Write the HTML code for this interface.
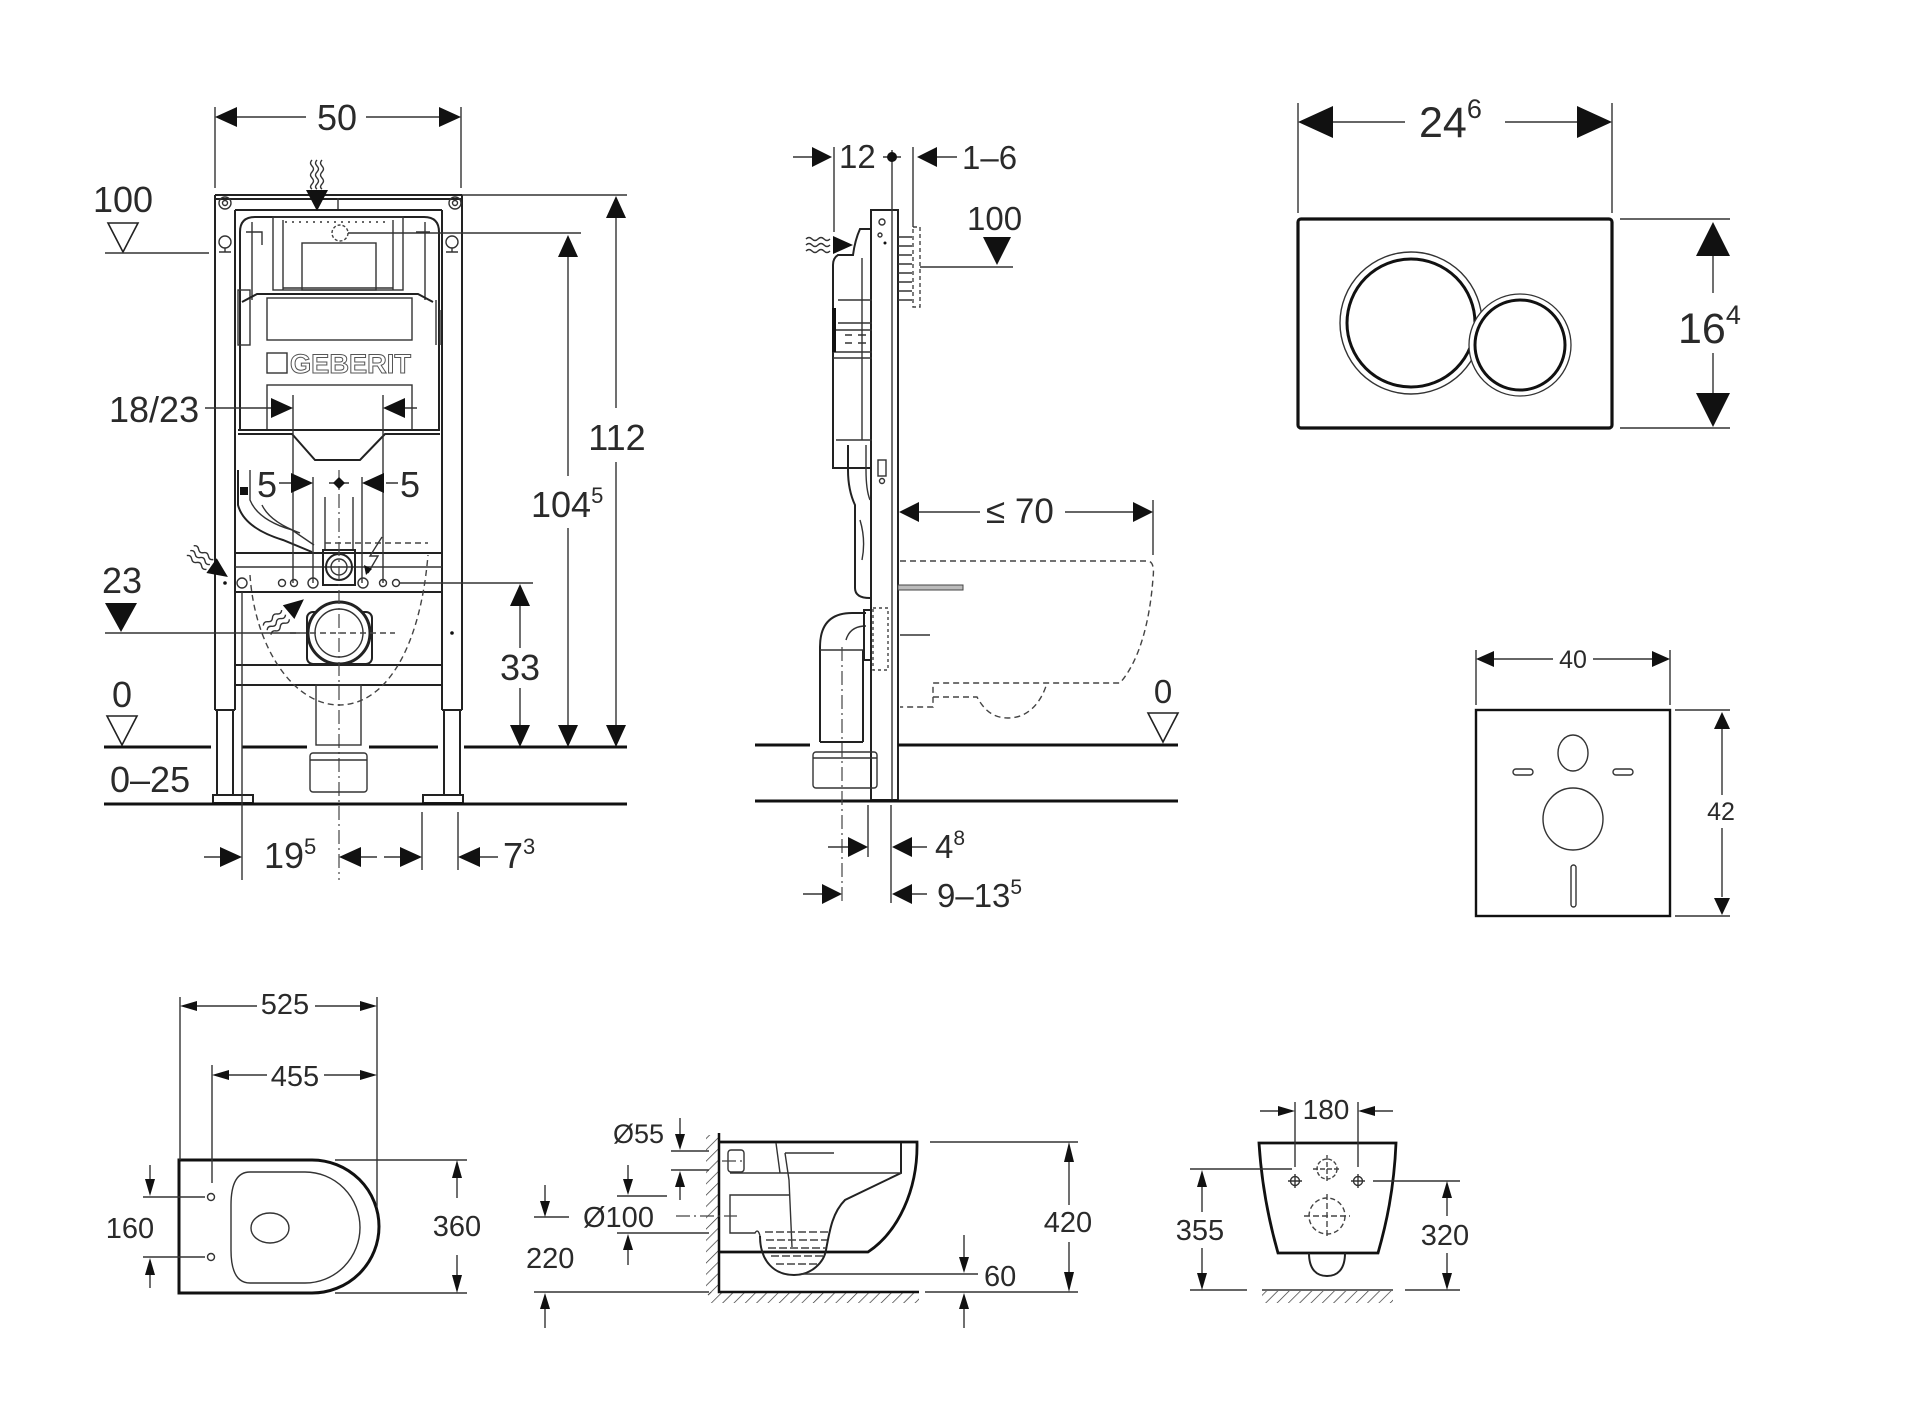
<!DOCTYPE html>
<html><head><meta charset="utf-8"><style>html,body{margin:0;padding:0;background:#fff}svg{display:block}</style></head>
<body>
<svg width="1920" height="1422" viewBox="0 0 1920 1422" xmlns="http://www.w3.org/2000/svg" font-family="Liberation Sans, Arial, sans-serif">
<defs>
<pattern id="h" width="8" height="8" patternUnits="userSpaceOnUse" patternTransform="rotate(45)"><line x1="0" y1="0" x2="0" y2="8" stroke="#333" stroke-width="1.4"/></pattern>
<style>
.l{stroke:#333;stroke-width:1.4;fill:none}
.m{stroke:#222;stroke-width:2;fill:none}
.t{stroke:#111;stroke-width:3;fill:none}
.d{stroke:#444;stroke-width:1.4;fill:none;stroke-dasharray:6 4}
.c{stroke:#444;stroke-width:1.2;fill:none;stroke-dasharray:14 4 2 4}
.a{fill:#111;stroke:none}
.h{fill:#fff;stroke:#222;stroke-width:1.6}
text{fill:#2a2a2a}
.f1{font-size:36px}
.f2{font-size:33px}
.f3{font-size:29px}
</style>
</defs>

<!-- ================= VIEW 1 : FRONT FRAME ================= -->
<!-- dim 50 -->
<path class="l" d="M215,107V188M461,107V188M237,117H306M366,117H439"/>
<polygon class="a" points="215,117 237,107 237,127"/>
<polygon class="a" points="461,117 439,107 439,127"/>
<text class="f1" x="337" y="130" text-anchor="middle">50</text>

<!-- frame -->
<path class="m" d="M215,195H462M215,195V710M462,195V710M235,210V710M442,210V710M235,210H442M215,199H462"/>
<path class="m" d="M217,710V795M233,710V795M444,710V795M460,710V795M215,710H235M442,710H462"/>
<rect class="m" x="213" y="795" width="40" height="8"/>
<rect class="m" x="423" y="795" width="40" height="8"/>
<circle class="l" cx="225" cy="203" r="6"/><circle class="l" cx="225" cy="203" r="2.5"/>
<circle class="l" cx="455" cy="203" r="6"/><circle class="l" cx="455" cy="203" r="2.5"/>
<circle class="l" cx="225" cy="242" r="6"/><path class="l" d="M219,252H231M225,248V252"/>
<circle class="l" cx="452" cy="242" r="6"/><path class="l" d="M446,252H458M452,248V252"/>
<path class="l" d="M338,198V209"/>

<!-- top wavy arrow -->
<path class="l" d="M312,160q-3,3 0,6t0,6t0,6t0,6t0,5M317,160q-3,3 0,6t0,6t0,6t0,6t0,5M322,160q-3,3 0,6t0,6t0,6t0,6t0,5"/>
<polygon class="a" points="306,190 328,190 317,211"/>

<!-- cistern -->
<path class="m" d="M240,430V232Q240,217 255,217H424Q439,217 439,232V430"/>
<rect class="l" x="273" y="217" width="130" height="73"/>
<path class="l" d="M283,220V290M393,220V290M283,288H393"/>
<rect class="l" x="302" y="243" width="74" height="47"/>
<circle class="d" cx="340" cy="233" r="8" style="stroke-dasharray:3 2"/>
<path class="l" d="M348,233H581"/>
<path class="l" d="M285,222H390" style="stroke-dasharray:2 5"/>
<path class="l" d="M252,222V300M425,222V300M246,232H262V245M430,232H416"/>
<rect class="l" x="238" y="290" width="12" height="55"/>
<path class="m" d="M242,302L257,294H418L433,302"/>
<rect class="l" x="267" y="298" width="145" height="42"/>
<rect class="l" x="267" y="353" width="20" height="20"/>
<text x="290" y="373" font-size="27" font-weight="bold" fill="#fff" stroke="#555" stroke-width="1" textLength="121" lengthAdjust="spacingAndGlyphs" style="fill:#fff">GEBERIT</text>
<rect class="l" x="267" y="385" width="145" height="45"/>
<path class="m" d="M238,430H440M238,434H292L315,460H360L385,434H440"/>
<path class="l" d="M436,300V345M440,310V345"/>

<!-- lower section -->
<path class="m" d="M235,553H442M235,592H442M235,665H442M235,685H442"/>
<path class="l" d="M235,567H442"/>
<path class="m" d="M238,470V505Q244,528 283,540L312,552"/>
<path class="l" d="M250,470V500Q258,520 292,530L314,545M262,505Q270,522 300,533"/>
<rect class="a" x="240" y="487" width="8" height="8"/>
<path class="l" d="M293,395V583M383,395V583M313,477V583M362,477V583M325,497V550M353,497V550"/>
<rect class="m" x="323" y="550" width="32" height="35"/>
<circle class="m" cx="339" cy="567" r="13"/><circle class="l" cx="339" cy="567" r="8"/>
<circle class="l" cx="242" cy="583" r="5"/><circle class="l" cx="282" cy="583" r="3.5"/><circle class="l" cx="294" cy="583" r="3.5"/>
<circle class="l" cx="313" cy="583" r="5"/><circle class="l" cx="363" cy="583" r="5"/><circle class="l" cx="383" cy="583" r="3.5"/><circle class="l" cx="396" cy="583" r="3.5"/>
<path class="l" d="M400,583H533"/>
<rect class="m" x="307" y="612" width="65" height="52" rx="6"/>
<circle cx="339" cy="633" r="31" fill="#fff" stroke="#222" stroke-width="3"/>
<circle class="l" cx="339" cy="633" r="24"/>
<path class="d" d="M290,633H395"/>
<path class="c" d="M339,470V880"/>
<rect class="l" x="316" y="685" width="45" height="60"/>
<rect class="l" x="310" y="753" width="57" height="39" rx="3"/>
<path class="l" d="M310,760H367"/>
<path class="d" d="M250,575C255,650 295,705 339,705C385,705 420,650 428,555M325,543H428"/>
<circle class="a" cx="225" cy="583" r="1.8"/><circle class="a" cx="452" cy="633" r="1.8"/>
<!-- lightning -->
<path class="l" d="M382,537L370,556L378,556L368,573"/>
<polygon class="a" points="366,575 364,565 372,569"/>
<!-- wavy arrows -->
<g transform="translate(205,561) rotate(35)">
<path class="l" d="M-18,-6q3,-3 6,0t6,0t6,0t6,0M-18,0q3,-3 6,0t6,0t6,0t6,0M-18,6q3,-3 6,0t6,0t6,0t6,0"/>
<polygon class="a" points="28,0 8,-9 8,9"/></g>
<g transform="translate(284,616) rotate(-40)">
<path class="l" d="M-22,-6q3,-3 6,0t6,0t6,0t6,0M-22,0q3,-3 6,0t6,0t6,0t6,0M-22,6q3,-3 6,0t6,0t6,0t6,0"/>
<polygon class="a" points="26,0 6,-9 6,9"/></g>

<!-- left labels -->
<text class="f1" x="123" y="212" text-anchor="middle">100</text>
<polygon class="h" points="108,223 138,223 123,252"/>
<path class="l" d="M105,253H209"/>
<text class="f1" x="109" y="422">18/23</text>
<path class="l" d="M205,408H272M405,408H417"/>
<polygon class="a" points="293,408 271,398 271,418"/>
<polygon class="a" points="383,408 405,398 405,418"/>
<text class="f1" x="257" y="497">5</text>
<path class="l" d="M279,483H292M386,483H398M329,483H349"/>
<polygon class="a" points="313,483 291,473 291,493"/>
<polygon class="a" points="339,477 345,483 339,489 333,483"/>
<polygon class="a" points="362,483 384,473 384,493"/>
<text class="f1" x="400" y="497">5</text>
<text class="f1" x="122" y="593" text-anchor="middle">23</text>
<polygon class="a" points="105,603 137,603 121,632"/>
<path class="l" d="M105,633H300"/>
<text class="f1" x="122" y="707" text-anchor="middle">0</text>
<polygon class="h" points="107,716 137,716 122,745"/>
<text class="f1" x="110" y="792">0–25</text>
<!-- floors -->
<path class="t" d="M104,747H211M242,747H307M369,747H438M464,747H627M104,804H627"/>

<!-- right dims -->
<polygon class="a" points="520,584 510,606 530,606"/>
<path class="l" d="M520,606V648M520,688V725"/>
<text class="f1" x="520" y="680" text-anchor="middle">33</text>
<polygon class="a" points="520,747 510,725 530,725"/>
<polygon class="a" points="568,235 558,257 578,257"/>
<path class="l" d="M568,257V476M568,528V725"/>
<text class="f1" x="531" y="517">104<tspan font-size="22" dy="-14">5</tspan></text>
<polygon class="a" points="568,747 558,725 578,725"/>
<path class="l" d="M462,195H627"/>
<polygon class="a" points="616,196 606,218 626,218"/>
<path class="l" d="M616,218V408M616,462V725"/>
<text class="f1" x="617" y="450" text-anchor="middle">112</text>
<polygon class="a" points="616,747 606,725 626,725"/>

<!-- bottom dims -->
<path class="l" d="M242,592V880M422,812V870M458,812V870"/>
<path class="l" d="M204,857H220M361,857H377M384,857H400M480,857H498"/>
<polygon class="a" points="242,857 220,847 220,867"/>
<text class="f1" x="264" y="868">19<tspan font-size="22" dy="-14">5</tspan></text>
<polygon class="a" points="339,857 361,847 361,867"/>
<polygon class="a" points="422,857 400,847 400,867"/>
<polygon class="a" points="458,857 480,847 480,867"/>
<text class="f1" x="503" y="868">7<tspan font-size="22" dy="-14">3</tspan></text>

<!-- ================= VIEW 2 : SIDE ================= -->
<rect class="m" x="871" y="210" width="27" height="590"/>
<path class="l" d="M892,210V800"/>
<circle class="l" cx="882" cy="222" r="3"/><circle class="l" cx="880" cy="235" r="2"/><circle class="a" cx="885" cy="243" r="1.5"/>
<rect class="l" x="878" y="460" width="8" height="16"/><circle class="l" cx="882" cy="481" r="2.5"/>
<path class="t" d="M755,745H810M898,745H1178M755,801H1178"/>
<!-- cistern -->
<path class="m" d="M872,229H860Q855,240 853,255H838Q833,258 833,265V468H872"/>
<path class="l" d="M838,300H872M838,323H872M833,330H872M833,352H872M833,358H872M836,440H872M862,258V440"/>
<path style="stroke:#111;stroke-width:4" d="M834,308V352"/>
<path class="l" d="M845,335H852M858,335H866M845,343H852M858,343H866"/>
<path class="m" d="M848,445V470Q848,490 855,505V588Q855,598 870,598"/>
<path class="l" d="M866,445V470Q866,490 870,500M860,520Q866,540 862,560"/>
<!-- elbow -->
<path class="m" d="M820,742V647Q820,613 852,613H866M820,742H863M863,742V650"/>
<path class="l" d="M820,650H863M846,640Q850,626 866,626"/>
<rect class="m" x="864" y="610" width="7" height="50"/>
<path class="c" d="M842,647V903"/>
<rect class="l" x="813" y="752" width="64" height="36" rx="3"/>
<path class="l" d="M813,758H877"/>
<rect x="898" y="585" width="65" height="5" fill="#bbb" stroke="#444" stroke-width="1"/>
<rect class="d" x="913" y="227" width="7" height="80" style="stroke-dasharray:4 3"/>
<path class="l" d="M898,237H912M898,246H912M898,255H912M898,264H912M898,273H912M898,282H912M898,291H912M898,300H912"/>
<rect class="d" x="873" y="608" width="15" height="62" style="stroke-dasharray:3 3"/>
<path class="d" d="M900,561H1148Q1155,562 1153,578C1150,620 1140,660 1120,683H933V707H900M933,697H977C985,712 995,718 1008,718C1030,718 1042,700 1047,683"/>
<path class="l" d="M900,635H930"/>
<!-- side wavy -->
<g transform="translate(830,245)">
<path class="l" d="M-24,-6q3,-3 6,0t6,0t6,0t6,0M-24,0q3,-3 6,0t6,0t6,0t6,0M-24,6q3,-3 6,0t6,0t6,0t6,0"/>
<polygon class="a" points="23,0 3,-9 3,9"/></g>
<!-- side dims -->
<path class="l" d="M793,157H812M834,147V232M883,157H901M892,150V210M913,147V227M937,157H957"/>
<polygon class="a" points="832,157 812,147 812,167"/>
<text class="f2" x="839" y="168">12</text>
<circle class="a" cx="892" cy="157" r="5"/>
<polygon class="a" points="917,157 937,147 937,167"/>
<text class="f2" x="962" y="169">1–6</text>
<text class="f2" x="967" y="230">100</text>
<polygon class="a" points="983,237 1011,237 997,265"/>
<path class="l" d="M920,267H1013"/>
<polygon class="a" points="899,512 919,502 919,522"/>
<path class="l" d="M919,512H980M1065,512H1133M1153,500V555"/>
<text font-size="35" x="986" y="523">≤ 70</text>
<polygon class="a" points="1153,512 1133,502 1133,522"/>
<path class="l" d="M868,805V857M891,805V903M828,847H848M912,847H927M803,894H822M912,894H927"/>
<polygon class="a" points="868,847 848,837 848,857"/>
<polygon class="a" points="892,847 912,837 912,857"/>
<text class="f2" x="935" y="858">4<tspan font-size="21" dy="-13">8</tspan></text>
<polygon class="a" points="842,894 822,884 822,904"/>
<polygon class="a" points="892,894 912,884 912,904"/>
<text class="f2" x="937" y="907">9–13<tspan font-size="21" dy="-13">5</tspan></text>
<text class="f2" x="1163" y="703" text-anchor="middle">0</text>
<polygon class="h" points="1148,713 1178,713 1163,742"/>

<!-- ================= VIEW 3 : FLUSH PLATE ================= -->
<rect x="1298" y="219" width="314" height="209" rx="3" fill="none" stroke="#111" stroke-width="3.2"/>
<circle class="l" cx="1411" cy="323" r="71"/>
<circle cx="1411" cy="323" r="64" fill="none" stroke="#111" stroke-width="3"/>
<circle cx="1520" cy="345" r="51" fill="#fff" stroke="#333" stroke-width="1.3"/>
<circle cx="1520" cy="345" r="45" fill="none" stroke="#111" stroke-width="3"/>
<path class="l" d="M1298,103V213M1612,103V213M1333,122H1405M1505,122H1578"/>
<polygon class="a" points="1298,122 1333,106 1333,138"/>
<polygon class="a" points="1612,122 1577,106 1577,138"/>
<text font-size="43" x="1419" y="137">24<tspan font-size="27" dy="-19">6</tspan></text>
<path class="l" d="M1620,219H1730M1620,428H1730M1713,256V293M1713,353V393"/>
<polygon class="a" points="1713,222 1696,256 1730,256"/>
<polygon class="a" points="1713,427 1696,393 1730,393"/>
<text font-size="43" x="1678" y="343">16<tspan font-size="27" dy="-19">4</tspan></text>

<!-- ================= VIEW 4 : SQUARE ================= -->
<rect x="1476" y="710" width="194" height="206" fill="none" stroke="#111" stroke-width="2.4"/>
<ellipse class="l" cx="1573" cy="753" rx="15" ry="18"/>
<rect class="l" x="1513" y="769" width="20" height="6" rx="3"/>
<rect class="l" x="1613" y="769" width="20" height="6" rx="3"/>
<ellipse class="l" cx="1573" cy="819" rx="30" ry="31"/>
<rect class="l" x="1571" y="865" width="5" height="42" rx="2.5"/>
<path class="l" d="M1476,650V705M1670,650V705M1494,659H1553M1593,659H1652"/>
<polygon class="a" points="1476,659 1494,651 1494,667"/>
<polygon class="a" points="1670,659 1652,651 1652,667"/>
<text font-size="25" x="1573" y="668" text-anchor="middle">40</text>
<path class="l" d="M1675,710H1730M1675,916H1730M1722,729V795M1722,828V897"/>
<polygon class="a" points="1722,712 1714,729 1730,729"/>
<polygon class="a" points="1722,915 1714,898 1730,898"/>
<text font-size="25" x="1721" y="820" text-anchor="middle">42</text>

<!-- ================= VIEW 5 : TOP VIEW ================= -->
<path d="M179,1160H312A67,66.5 0 0 1 312,1293H179Z" fill="none" stroke="#111" stroke-width="3"/>
<path class="l" d="M250,1172H305A55,55.5 0 0 1 305,1283H250C236,1283 231,1270 231,1250V1205C231,1185 236,1172 250,1172Z"/>
<ellipse class="l" cx="270" cy="1228" rx="19" ry="15"/>
<circle class="l" cx="211" cy="1197" r="3.5"/><circle class="l" cx="211" cy="1257" r="3.5"/>
<path class="l" d="M180,997V1160M377,997V1207M197,1006H257M315,1006H360M212,1065V1183M229,1075H267M324,1075H360"/>
<polygon class="a" points="180,1006 197,1001 197,1011"/>
<polygon class="a" points="377,1006 360,1001 360,1011"/>
<text class="f3" x="285" y="1014" text-anchor="middle">525</text>
<polygon class="a" points="212,1075 229,1070 229,1080"/>
<polygon class="a" points="377,1075 360,1070 360,1080"/>
<text class="f3" x="295" y="1086" text-anchor="middle">455</text>
<path class="l" d="M143,1197H205M143,1257H205M150,1165V1180M150,1275V1288"/>
<polygon class="a" points="150,1196 145,1179 155,1179"/>
<polygon class="a" points="150,1258 145,1275 155,1275"/>
<text class="f3" x="130" y="1238" text-anchor="middle">160</text>
<path class="l" d="M335,1160H467M335,1293H467M457,1178V1198M457,1255V1275"/>
<polygon class="a" points="457,1160 452,1178 462,1178"/>
<polygon class="a" points="457,1293 452,1275 462,1275"/>
<text class="f3" x="457" y="1236" text-anchor="middle">360</text>

<!-- ================= VIEW 6 : SIDE TOILET ================= -->
<rect x="706" y="1135" width="13" height="160" fill="url(#h)"/>
<rect x="708" y="1292" width="211" height="11" fill="url(#h)"/>
<path style="stroke:#111;stroke-width:2.5;fill:none" d="M719,1133V1292H919"/>
<path style="stroke:#111;stroke-width:2.8;fill:none" d="M719,1142H917C918,1190 898,1232 868,1252H719"/>
<path class="m" d="M760,1236C760,1262 775,1275 794,1275C812,1275 824,1262 826,1250C830,1228 833,1212 845,1200L901,1173V1143"/>
<path class="l" d="M730,1173H901M776,1143L780,1173M785,1153H834M785,1153L789,1180L792,1247"/>
<rect class="l" x="728" y="1150" width="16" height="22" rx="3"/>
<path class="l" d="M789,1195H730V1233H755Q758,1228 760,1236"/>
<path class="d" d="M765,1232H828M766,1240H827M768,1248H826M771,1256H823M776,1264H818" style="stroke-dasharray:8 3"/>
<path class="c" d="M722,1161H742M676,1216H737"/>
<text font-size="27" x="613" y="1143">Ø55</text>
<path class="l" d="M680,1118V1134M671,1151H709M671,1170H709M680,1187V1200"/>
<polygon class="a" points="680,1150 675,1134 685,1134"/>
<polygon class="a" points="680,1171 675,1187 685,1187"/>
<text class="f3" x="583" y="1227">Ø100</text>
<path class="l" d="M628,1165V1180M617,1196H667M617,1233H709M628,1250V1265"/>
<polygon class="a" points="628,1195 623,1179 633,1179"/>
<polygon class="a" points="628,1234 623,1250 633,1250"/>
<text class="f3" x="526" y="1268">220</text>
<path class="l" d="M545,1185V1201M534,1217H569M534,1292H709M545,1309V1328"/>
<polygon class="a" points="545,1217 540,1201 550,1201"/>
<polygon class="a" points="545,1293 540,1309 550,1309"/>
<path class="l" d="M930,1142H1078M925,1292H1078M1069,1162V1205M1069,1242V1272"/>
<polygon class="a" points="1069,1142 1064,1162 1074,1162"/>
<polygon class="a" points="1069,1292 1064,1272 1074,1272"/>
<text class="f3" x="1068" y="1232" text-anchor="middle">420</text>
<path class="l" d="M964,1235V1257M801,1274H978M964,1309V1328"/>
<polygon class="a" points="964,1273 959,1257 969,1257"/>
<polygon class="a" points="964,1293 959,1309 969,1309"/>
<text class="f3" x="984" y="1286">60</text>

<!-- ================= VIEW 7 : FRONT TOILET ================= -->
<path style="stroke:#111;stroke-width:2.8;fill:none" d="M1259,1143H1396C1394,1190 1386,1225 1378,1253H1278C1270,1225 1262,1190 1259,1143Z"/>
<path class="m" d="M1309,1253C1309,1270 1317,1276 1327,1276C1337,1276 1345,1270 1345,1253"/>
<circle class="l" cx="1295" cy="1181" r="4.5"/><path class="l" d="M1288,1181H1302M1295,1174V1188"/>
<circle class="l" cx="1358" cy="1181" r="4.5"/><path class="l" d="M1351,1181H1365M1358,1174V1188"/>
<circle class="d" cx="1327" cy="1169" r="10" style="stroke-dasharray:4 2"/>
<path class="d" d="M1313,1169H1341M1327,1155V1183" style="stroke-dasharray:5 2"/>
<circle class="d" cx="1327" cy="1216" r="18" style="stroke-dasharray:5 3"/>
<path class="d" d="M1304,1216H1350M1327,1194V1238" style="stroke-dasharray:6 3"/>
<path class="l" d="M1295,1102V1167M1358,1102V1167M1260,1111H1278M1375,1111H1393"/>
<polygon class="a" points="1295,1111 1278,1106 1278,1116"/>
<polygon class="a" points="1358,1111 1375,1106 1375,1116"/>
<text font-size="28" x="1326" y="1119" text-anchor="middle">180</text>
<path class="l" d="M1190,1169H1292M1190,1290H1247M1202,1187V1212M1202,1248V1273"/>
<polygon class="a" points="1202,1170 1197,1187 1207,1187"/>
<polygon class="a" points="1202,1290 1197,1273 1207,1273"/>
<text class="f3" x="1200" y="1240" text-anchor="middle">355</text>
<path class="l" d="M1373,1181H1460M1405,1290H1460M1447,1198V1216M1447,1253V1273"/>
<polygon class="a" points="1447,1181 1442,1198 1452,1198"/>
<polygon class="a" points="1447,1290 1442,1273 1452,1273"/>
<text class="f3" x="1445" y="1245" text-anchor="middle">320</text>
<rect x="1262" y="1291" width="131" height="12" fill="url(#h)"/>
<path class="l" d="M1262,1290H1393"/>
</svg>
</body></html>
